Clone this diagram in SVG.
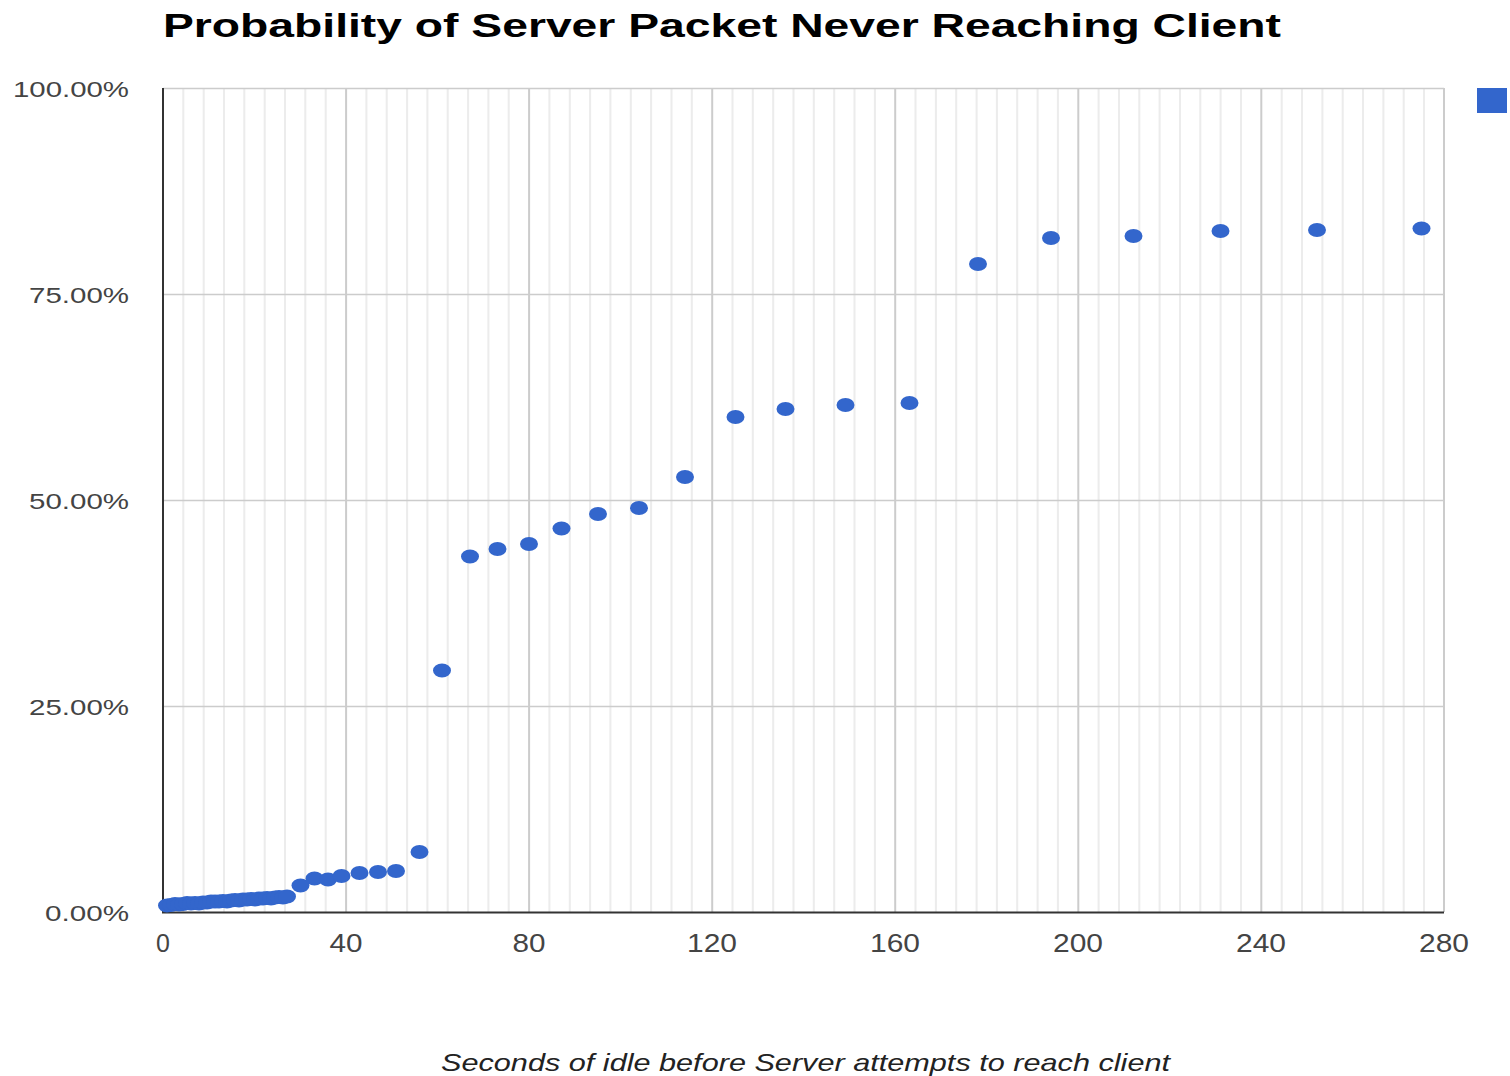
<svg xmlns="http://www.w3.org/2000/svg" width="1510" height="1076" viewBox="0 0 1510 1076">
  <style>
    .minor { stroke: #ececec; stroke-width: 2; }
    .major { stroke: #cccccc; stroke-width: 2; }
    .hgrid { stroke: #cccccc; stroke-width: 1.5; }
    .axis { stroke: #333333; stroke-width: 2; }
    .pt { fill: #3366cc; }
    .ylab { font-family: "Liberation Sans", Arial, sans-serif; font-size: 22px; fill: #444444; text-anchor: end; }
    .xlab { font-family: "Liberation Sans", Arial, sans-serif; font-size: 25px; fill: #444444; text-anchor: middle; }
    .title { font-family: "Liberation Sans", Arial, sans-serif; font-size: 34px; font-weight: bold; fill: #000000; }
    .xtitle { font-family: "Liberation Sans", Arial, sans-serif; font-size: 24px; font-style: italic; fill: #222222; }
  </style>
  <rect x="0" y="0" width="1510" height="1076" fill="#ffffff"/>

  <text class="title" x="163" y="37" textLength="1118" lengthAdjust="spacingAndGlyphs">Probability of Server Packet Never Reaching Client</text>

  <!-- minor vertical gridlines: 9 per 40-second interval -->
  <g id="minor-grid">
    <path class="minor" d="M183.3 88V912M203.7 88V912M224 88V912M244.3 88V912M264.7 88V912M285 88V912M305.3 88V912M325.7 88V912
      M366.4 88V912M386.7 88V912M407.1 88V912M427.4 88V912M447.7 88V912M468.1 88V912M488.4 88V912M508.7 88V912
      M549.4 88V912M569.8 88V912M590.1 88V912M610.4 88V912M630.8 88V912M651.1 88V912M671.5 88V912M691.8 88V912
      M732.5 88V912M752.8 88V912M773.2 88V912M793.5 88V912M813.8 88V912M834.2 88V912M854.5 88V912M874.9 88V912
      M915.5 88V912M935.9 88V912M956.2 88V912M976.6 88V912M996.9 88V912M1017.2 88V912M1037.6 88V912M1057.9 88V912
      M1098.6 88V912M1119 88V912M1139.3 88V912M1159.6 88V912M1180 88V912M1200.3 88V912M1220.6 88V912M1241 88V912
      M1281.7 88V912M1302 88V912M1322.4 88V912M1342.7 88V912M1363 88V912M1383.4 88V912M1403.7 88V912M1424 88V912"/>
  </g>

  <!-- major vertical gridlines every 40 s, horizontal every 25 % -->
  <g id="major-grid">
    <path class="major" d="M346.1 88V912M529.1 88V912M712.2 88V912M895.2 88V912M1078.3 88V912M1261.3 88V912M1444 88V912"/>
    <path class="hgrid" d="M163 88.5H1444M163 294.5H1444M163 500.5H1444M163 706.5H1444"/>
  </g>

  <g id="axes">
    <line class="axis" x1="163" y1="88" x2="163" y2="913"/>
    <line class="axis" x1="162" y1="912.5" x2="1444" y2="912.5"/>
  </g>

  <g id="y-labels">
    <text class="ylab" x="129" y="97" textLength="116" lengthAdjust="spacingAndGlyphs">100.00%</text>
    <text class="ylab" x="129" y="303" textLength="100" lengthAdjust="spacingAndGlyphs">75.00%</text>
    <text class="ylab" x="129" y="509" textLength="100" lengthAdjust="spacingAndGlyphs">50.00%</text>
    <text class="ylab" x="129" y="715" textLength="100" lengthAdjust="spacingAndGlyphs">25.00%</text>
    <text class="ylab" x="129" y="921" textLength="84" lengthAdjust="spacingAndGlyphs">0.00%</text>
  </g>

  <g id="x-labels">
    <text class="xlab" x="163" y="952">0</text>
    <text class="xlab" x="346" y="952" textLength="33" lengthAdjust="spacingAndGlyphs">40</text>
    <text class="xlab" x="529" y="952" textLength="33" lengthAdjust="spacingAndGlyphs">80</text>
    <text class="xlab" x="712" y="952" textLength="50" lengthAdjust="spacingAndGlyphs">120</text>
    <text class="xlab" x="895" y="952" textLength="50" lengthAdjust="spacingAndGlyphs">160</text>
    <text class="xlab" x="1078" y="952" textLength="50" lengthAdjust="spacingAndGlyphs">200</text>
    <text class="xlab" x="1261" y="952" textLength="50" lengthAdjust="spacingAndGlyphs">240</text>
    <text class="xlab" x="1444" y="952" textLength="50" lengthAdjust="spacingAndGlyphs">280</text>
  </g>

  <text class="xtitle" x="441" y="1071" textLength="729" lengthAdjust="spacingAndGlyphs">Seconds of idle before Server attempts to reach client</text>

  <!-- legend swatch -->
  <rect id="legend" x="1477" y="88" width="30" height="25" fill="#3366cc"/>

  <!-- data points -->
  <g id="points" class="pt">
    <ellipse cx="167" cy="905.5" rx="9" ry="7"/>
    <ellipse cx="171" cy="905" rx="9" ry="7"/>
    <ellipse cx="175" cy="904" rx="9" ry="7"/>
    <ellipse cx="179" cy="904.5" rx="9" ry="7"/>
    <ellipse cx="183" cy="904" rx="9" ry="7"/>
    <ellipse cx="187" cy="903" rx="9" ry="7"/>
    <ellipse cx="191" cy="903.5" rx="9" ry="7"/>
    <ellipse cx="195" cy="903" rx="9" ry="7"/>
    <ellipse cx="199" cy="903.5" rx="9" ry="7"/>
    <ellipse cx="203" cy="902.5" rx="9" ry="7"/>
    <ellipse cx="207" cy="902.5" rx="9" ry="7"/>
    <ellipse cx="211" cy="901.5" rx="9" ry="7"/>
    <ellipse cx="215" cy="901.5" rx="9" ry="7"/>
    <ellipse cx="219" cy="901.5" rx="9" ry="7"/>
    <ellipse cx="223" cy="901" rx="9" ry="7"/>
    <ellipse cx="227" cy="901.5" rx="9" ry="7"/>
    <ellipse cx="231" cy="900.5" rx="9" ry="7"/>
    <ellipse cx="235" cy="900" rx="9" ry="7"/>
    <ellipse cx="239" cy="900.5" rx="9" ry="7"/>
    <ellipse cx="243" cy="899.5" rx="9" ry="7"/>
    <ellipse cx="247" cy="899.5" rx="9" ry="7"/>
    <ellipse cx="251" cy="899" rx="9" ry="7"/>
    <ellipse cx="255" cy="899.5" rx="9" ry="7"/>
    <ellipse cx="259" cy="898.5" rx="9" ry="7"/>
    <ellipse cx="263" cy="898.5" rx="9" ry="7"/>
    <ellipse cx="267" cy="898" rx="9" ry="7"/>
    <ellipse cx="271" cy="898.5" rx="9" ry="7"/>
    <ellipse cx="275" cy="897.5" rx="9" ry="7"/>
    <ellipse cx="279" cy="897" rx="9" ry="7"/>
    <ellipse cx="283" cy="897.5" rx="9" ry="7"/>
    <ellipse cx="287" cy="896.5" rx="9" ry="7"/>
    <ellipse cx="300.5" cy="885.5" rx="9" ry="7"/>
    <ellipse cx="314.5" cy="878.5" rx="9" ry="7"/>
    <ellipse cx="328" cy="879.5" rx="9" ry="7"/>
    <ellipse cx="341.5" cy="876" rx="9" ry="7"/>
    <ellipse cx="359.5" cy="873" rx="9" ry="7"/>
    <ellipse cx="378" cy="872" rx="9" ry="7"/>
    <ellipse cx="396" cy="871" rx="9" ry="7"/>
    <ellipse cx="419.5" cy="852" rx="9" ry="7"/>
    <ellipse cx="442" cy="670.5" rx="9" ry="7"/>
    <ellipse cx="470" cy="556.5" rx="9" ry="7"/>
    <ellipse cx="497.5" cy="549" rx="9" ry="7"/>
    <ellipse cx="529" cy="544" rx="9" ry="7"/>
    <ellipse cx="561.5" cy="528.5" rx="9" ry="7"/>
    <ellipse cx="598" cy="514" rx="9" ry="7"/>
    <ellipse cx="639" cy="508" rx="9" ry="7"/>
    <ellipse cx="685" cy="477" rx="9" ry="7"/>
    <ellipse cx="735.5" cy="417" rx="9" ry="7"/>
    <ellipse cx="785.5" cy="409" rx="9" ry="7"/>
    <ellipse cx="845.5" cy="405" rx="9" ry="7"/>
    <ellipse cx="909.5" cy="403" rx="9" ry="7"/>
    <ellipse cx="978" cy="264" rx="9" ry="7"/>
    <ellipse cx="1051" cy="238" rx="9" ry="7"/>
    <ellipse cx="1133.5" cy="236" rx="9" ry="7"/>
    <ellipse cx="1220.5" cy="231" rx="9" ry="7"/>
    <ellipse cx="1317" cy="230" rx="9" ry="7"/>
    <ellipse cx="1421.5" cy="228.5" rx="9" ry="7"/>
  </g>
</svg>
